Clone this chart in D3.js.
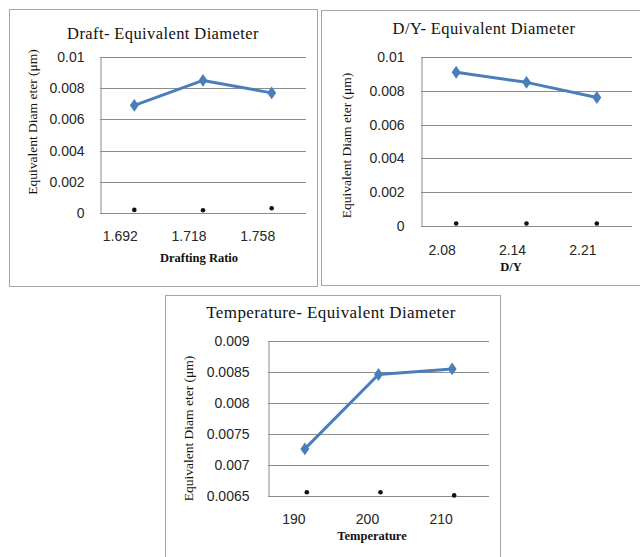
<!DOCTYPE html>
<html>
<head>
<meta charset="utf-8">
<script src="https://cdn.jsdelivr.net/npm/d3@7"></script>
<style>
  html, body { margin: 0; padding: 0; background: #fff; }
  svg { display: block; }
</style>
</head>
<body>
<svg id="chart" width="640" height="557"></svg>
<script>
// Drafting ratio panel
const draftRatio = ["1.692", "1.718", "1.758"];
const draftDiameter = [0.0069, 0.0085, 0.0077];
const draftBase = [0.0002, 0.00018, 0.0003];
const draftTicks = [0, 0.002, 0.004, 0.006, 0.008, 0.01];

// D/Y panel
const dyRatio = ["2.08", "2.14", "2.21"];
const dyDiameter = [0.0091, 0.0085, 0.0076];
const dyBase = [0.00015, 0.00015, 0.00015];
const dyTicks = [0, 0.002, 0.004, 0.006, 0.008, 0.01];

// Temperature panel
const temperature = ["190", "200", "210"];
const tempDiameter = [0.00726, 0.00846, 0.00855];
const tempBase = [0.00656, 0.00656, 0.00651];
const tempTicks = [0.0065, 0.007, 0.0075, 0.008, 0.0085, 0.009];

const yLabel = "Equivalent Diam eter (\u03bcm)";
const svg = d3.select("#chart");

function panel(o) {
  const g = svg.append("g");
  // frame
  g.append("rect")
    .attr("x", o.frame[0] + 0.5).attr("y", o.frame[1] + 0.5)
    .attr("width", o.frame[2]).attr("height", o.frame[3])
    .attr("fill", "#fff").attr("stroke", "#a6a6a6").attr("stroke-width", 1);

  const x = d3.scaleBand().domain(o.cats).range([o.left, o.right]);
  const y = d3.scaleLinear().domain([o.ticks[0], o.ticks[o.ticks.length - 1]]).range([o.bottom, o.top]);

  // horizontal gridlines
  g.append("g").selectAll("line").data(o.ticks).join("line")
    .attr("x1", o.left).attr("x2", o.right)
    .attr("y1", d => Math.round(y(d)) + 0.5).attr("y2", d => Math.round(y(d)) + 0.5)
    .attr("stroke", "#8c8c8c").attr("stroke-width", 1);

  // value axis
  const ya = g.append("g").attr("transform", `translate(${o.left + 0.5},0)`)
    .call(d3.axisLeft(y).tickValues(o.ticks).tickSize(0).tickPadding(o.yPad)
      .tickFormat(d => String(+d.toPrecision(6))));
  ya.select(".domain").attr("stroke", "#8c8c8c");
  ya.selectAll("text").attr("font-family", "Liberation Sans, Arial, sans-serif")
    .attr("font-size", 14).attr("fill", "#262626");

  // category axis (labels sit a little left of the category centre)
  const xa = g.append("g").attr("transform", `translate(0,${o.bottom})`)
    .call(d3.axisBottom(x).tickSize(0).tickPadding(o.xPad));
  xa.select(".domain").remove();
  xa.selectAll("text").attr("font-family", "Liberation Sans, Arial, sans-serif")
    .attr("font-size", 14).attr("fill", "#262626").attr("dx", o.xShift);

  // main series
  const cx = (d, i) => x(o.cats[i]) + x.bandwidth() / 2;
  g.append("path").datum(o.values)
    .attr("d", d3.line().x(cx).y(d => y(d)))
    .attr("fill", "none").attr("stroke", "#4a7ebb").attr("stroke-width", 3)
    .attr("stroke-linejoin", "round");
  g.append("g").selectAll("path").data(o.values).join("path")
    .attr("d", d3.symbol(d3.symbolDiamond, 48))
    .attr("transform", (d, i) => `translate(${cx(d, i)},${y(d)}) scale(1.2,1)`)
    .attr("fill", "#4a7ebb");

  // baseline series
  g.append("g").selectAll("circle").data(o.base).join("circle")
    .attr("cx", (d, i) => cx(d, i) + o.dotShift).attr("cy", d => y(d)).attr("r", 2.3)
    .attr("fill", "#111");

  // titles
  g.append("text").attr("x", o.titleX).attr("y", o.titleY)
    .attr("text-anchor", "middle").attr("dominant-baseline", "central")
    .attr("font-family", "Liberation Serif, Times New Roman, serif")
    .attr("font-size", o.titleSize).attr("letter-spacing", 0.4).attr("fill", "#111")
    .text(o.title);
  g.append("text")
    .attr("transform", `translate(${o.yLabelX},${(o.top + o.bottom) / 2 + o.yLabelDy}) rotate(-90)`)
    .attr("text-anchor", "middle").attr("dominant-baseline", "central")
    .attr("font-family", "Liberation Serif, Times New Roman, serif")
    .attr("font-size", 13.5).attr("fill", "#111")
    .text(yLabel);
  g.append("text").attr("x", o.xTitleX).attr("y", o.xTitleY)
    .attr("text-anchor", "middle").attr("dominant-baseline", "central")
    .attr("font-family", "Liberation Serif, Times New Roman, serif")
    .attr("font-size", 12.5).attr("font-weight", "bold").attr("fill", "#111")
    .text(o.xTitle);
}

panel({
  frame: [9, 9, 308, 277],
  cats: draftRatio, values: draftDiameter, base: draftBase, ticks: draftTicks,
  left: 100, right: 306, top: 57, bottom: 213, xPad: 18, yPad: 16, xShift: -14, dotShift: 0,
  title: "Draft- Equivalent Diameter", titleX: 163, titleY: 33, titleSize: 16.5,
  yLabelX: 32, yLabelDy: -13,
  xTitle: "Drafting Ratio", xTitleX: 199, xTitleY: 258
});

panel({
  frame: [321, 10, 330, 275],
  cats: dyRatio, values: dyDiameter, base: dyBase, ticks: dyTicks,
  left: 421, right: 632, top: 57, bottom: 226, xPad: 19, yPad: 17, xShift: -14, dotShift: 0,
  title: "D/Y- Equivalent Diameter", titleX: 484, titleY: 28, titleSize: 16.5,
  yLabelX: 346, yLabelDy: 4,
  xTitle: "D/Y", xTitleX: 511, xTitleY: 267
});

panel({
  frame: [165, 295, 335, 280],
  cats: temperature, values: tempDiameter, base: tempBase, ticks: tempTicks,
  left: 268, right: 489, top: 341, bottom: 496, xPad: 18, yPad: 19, xShift: -11, dotShift: 2,
  title: "Temperature- Equivalent Diameter", titleX: 331, titleY: 312, titleSize: 17,
  yLabelX: 188, yLabelDy: 10,
  xTitle: "Temperature", xTitleX: 372, xTitleY: 536
});
</script>
</body>
</html>
